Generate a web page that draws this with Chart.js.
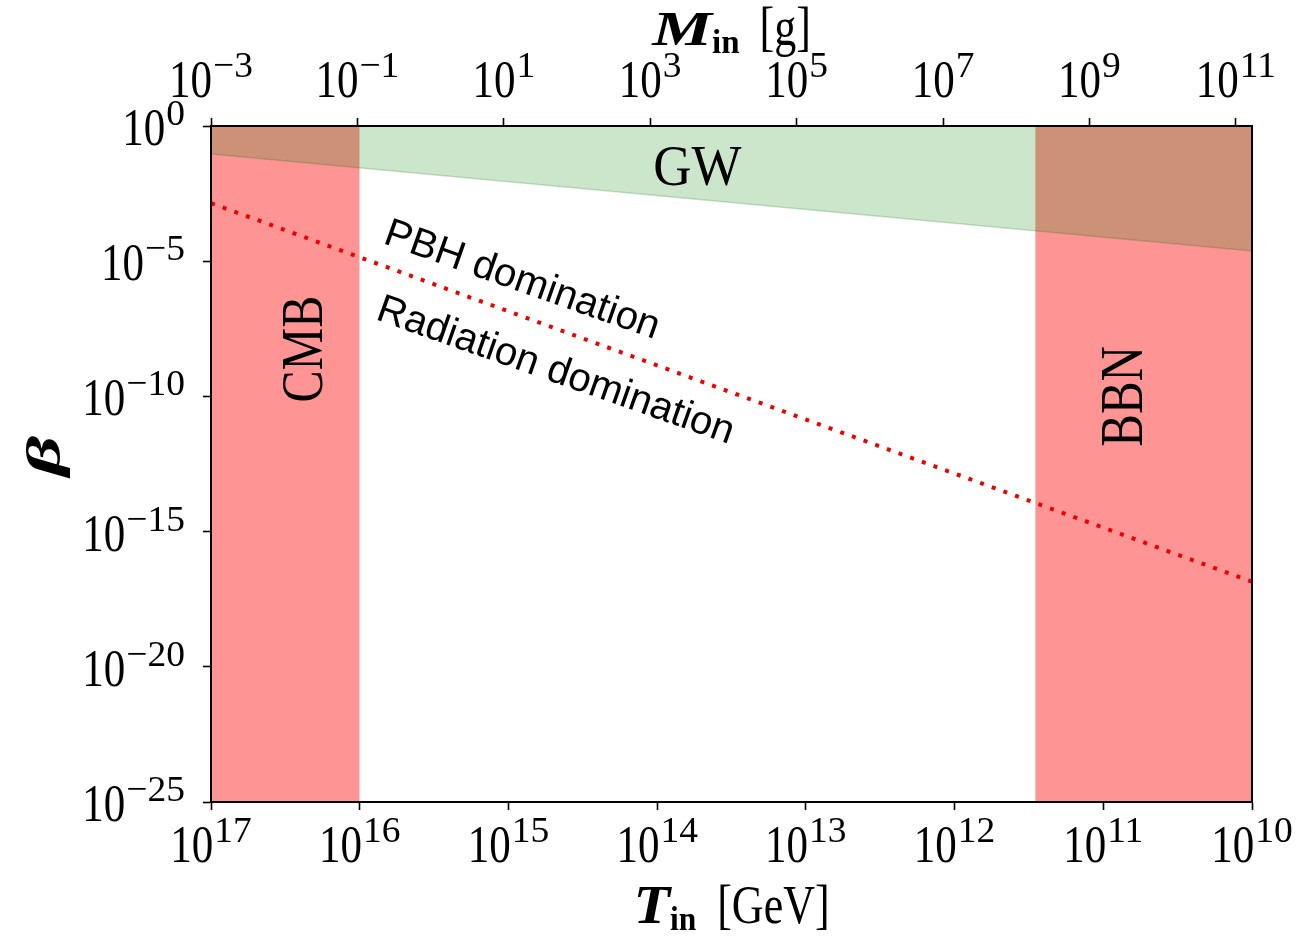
<!DOCTYPE html>
<html>
<head>
<meta charset="utf-8">
<script src="https://cdn.jsdelivr.net/npm/chart.js@4.4.0/dist/chart.umd.min.js"></script>
<style>
  html, body { margin: 0; padding: 0; background: #fff; }
  #wrap { width: 1302px; height: 937px; }
</style>
</head>
<body>
<div id="wrap"><canvas id="pbh" width="1302" height="937"></canvas></div>
<script>
// bottom axis: T_in [GeV], decreasing to the right
const tTicks = [1e17, 1e16, 1e15, 1e14, 1e13, 1e12, 1e11, 1e10];
// top axis: M_in [g]
const mTicks = [1e-3, 1e-1, 1e1, 1e3, 1e5, 1e7, 1e9, 1e11];
const mRange = [1e-3, 1.66e11];
// beta axis
const betaTicks = [1, 1e-5, 1e-10, 1e-15, 1e-20, 1e-25];

// excluded bands in T
const cmbT = [1e17, 1e16];
const bbnT = [2.87e11, 1e10];
const bandTop = [1, 1];

// GW bound
const gwT = [1e17, 1e10];
const gwBeta = [9.2e-2, 2.4e-5];

// PBH domination / radiation domination boundary
const domT = [1e17, 1e10];
const domBeta = [1.4e-3, 1.4e-17];

const SERIF = '"Liberation Serif", "Times New Roman", serif';
const SANS = '"Liberation Sans", Arial, sans-serif';

const pts = (xs, ys) => xs.map((v, i) => ({x: v, y: ys[i]}));

function putText(ctx, str, x, y, o) {
  ctx.save();
  ctx.translate(x, y);
  if (o.rot) ctx.rotate(o.rot);
  ctx.scale(o.sx || 1, o.sy || 1);
  ctx.font = o.font;
  ctx.textAlign = o.align || 'left';
  ctx.textBaseline = 'alphabetic';
  ctx.fillStyle = '#000';
  ctx.fillText(str, 0, 0);
  ctx.restore();
}

function textW(ctx, str, font) {
  ctx.save();
  ctx.font = font;
  const w = ctx.measureText(str).width;
  ctx.restore();
  return w;
}

// "10" with raised exponent
function powLabel(ctx, v, x, base, align) {
  const p = Math.round(Math.log10(v));
  const e = (p < 0 ? '\u2212' : '') + Math.abs(p);
  const bf = '43px ' + SERIF, ef = '30px ' + SERIF;
  const wb = textW(ctx, '10', bf);
  const we = textW(ctx, e, ef) * 1.25;
  const total = wb + we + 1;
  const x0 = align === 'right' ? x - total : x - total / 2;
  putText(ctx, '10', x0, base, {font: bf, sy: 1.24});
  putText(ctx, e, x0 + wb + 1, base - 20, {font: ef, sx: 1.25, sy: 1.22});
}

function run(ctx, segs, cx, baseY) {
  const widths = segs.map(s => textW(ctx, s.str, s.font) * (s.sx || 1));
  const total = widths.reduce((a, w, i) => a + w + (segs[i].gap || 0), 0);
  let xx = cx - total / 2;
  segs.forEach((s, i) => {
    xx += s.gap || 0;
    putText(ctx, s.str, xx, baseY + (s.dy || 0), s);
    xx += widths[i];
  });
}

const notes = [
  {str: 'GW', T: 10 ** 13.73, b: 10 ** -2.18, font: '53px ' + SERIF, sy: 1.07, align: 'center'},
  {str: 'CMB', T: 10 ** 16.254, b: 10 ** -8.25, font: '48px ' + SERIF, rot: -Math.PI / 2, sy: 1.22, align: 'center'},
  {str: 'BBN', T: 10 ** 10.739, b: 1e-10, font: '49px ' + SERIF, rot: -Math.PI / 2, sy: 1.23, align: 'center'},
  {str: 'PBH domination', T: 10 ** 15.85, b: 10 ** -4.33, font: '40px ' + SANS, alongLine: true},
  {str: 'Radiation domination', T: 10 ** 15.9, b: 10 ** -7.14, font: '40px ' + SANS, alongLine: true}
];

const paperText = {
  id: 'paperText',
  afterDraw(chart) {
    const ctx = chart.ctx;
    const {x, x2, y} = chart.scales;
    const area = chart.chartArea;

    x.ticks.forEach(t => powLabel(ctx, t.value, x.getPixelForValue(t.value), area.bottom + 60, 'center'));
    x2.ticks.forEach(t => powLabel(ctx, t.value, x2.getPixelForValue(t.value), area.top - 29, 'center'));
    y.ticks.forEach(t => powLabel(ctx, t.value, area.left - 26, y.getPixelForValue(t.value) + 19, 'right'));

    const cx = (area.left + area.right) / 2;
    run(ctx, [
      {str: 'T', font: 'bold italic 46px ' + SERIF, sx: 1.3, sy: 1.2},
      {str: 'in', font: 'bold 30px ' + SERIF, sx: 1.05, sy: 1.15, dy: 7},
      {str: '[GeV]', font: '44px ' + SERIF, sy: 1.27, gap: 21}
    ], cx, area.bottom + 121);
    run(ctx, [
      {str: 'M', font: 'bold italic 48px ' + SERIF, sx: 1.4, sy: 1.0},
      {str: 'in', font: 'bold 30px ' + SERIF, sx: 1.1, sy: 1.1, dy: 8},
      {str: '[g]', font: '44px ' + SERIF, sy: 1.25, gap: 20}
    ], cx, area.top - 81);
    putText(ctx, '\u03b2', 60, 456, {font: 'bold italic 58px ' + SERIF, rot: -Math.PI / 2, align: 'center', sx: 1.35, sy: 0.85});

    // slope of the domination boundary on screen
    const slope = (y.getPixelForValue(domBeta[1]) - y.getPixelForValue(domBeta[0])) /
                  (x.getPixelForValue(domT[1]) - x.getPixelForValue(domT[0]));
    notes.forEach(n => {
      const px = x.getPixelForValue(n.T), py = y.getPixelForValue(n.b);
      if (n.alongLine) {
        putText(ctx, n.str, px, py, {font: n.font, rot: Math.atan(slope * 0.97)});
      } else {
        putText(ctx, n.str, px, py, n);
      }
    });
  }
};

const axisLook = (extra) => Object.assign({
  border: {display: true, color: '#000', width: 2, z: 1},
  grid: {display: true, drawOnChartArea: false, drawTicks: true, tickLength: 8, tickWidth: 1.6, tickColor: '#000'},
  ticks: {display: false}
}, extra);

const RED = 'rgba(255, 0, 0, 0.42)';
const GREEN = 'rgba(0, 128, 0, 0.2)';

new Chart(document.getElementById('pbh'), {
  type: 'line',
  data: {
    datasets: [
      {label: 'CMB', data: pts(cmbT, bandTop), fill: 'start', backgroundColor: RED, borderWidth: 0, pointRadius: 0, order: 3},
      {label: 'BBN', data: pts(bbnT, bandTop), fill: 'start', backgroundColor: RED, borderWidth: 0, pointRadius: 0, order: 3},
      {label: 'GW', data: pts(gwT, gwBeta), fill: 'end', backgroundColor: GREEN, borderColor: 'rgba(0, 100, 0, 0.2)', borderWidth: 1.5, pointRadius: 0, order: 2},
      {label: 'domination', data: pts(domT, domBeta), fill: false, borderColor: '#ee0000', borderWidth: 4, borderDash: [4, 8.4], pointRadius: 0, order: 1}
    ]
  },
  options: {
    responsive: false,
    animation: false,
    devicePixelRatio: 1,
    layout: {padding: 0},
    plugins: {legend: {display: false}, tooltip: {enabled: false}},
    scales: {
      x: axisLook({
        type: 'logarithmic', position: 'bottom', reverse: true, min: 1e10, max: 1e17,
        afterBuildTicks: s => { s.ticks = tTicks.map(v => ({value: v})); },
        afterFit: s => { s.height = 135; }
      }),
      x2: axisLook({
        type: 'logarithmic', position: 'top', min: mRange[0], max: mRange[1],
        afterBuildTicks: s => { s.ticks = mTicks.map(v => ({value: v})); },
        afterFit: s => { s.height = 126; }
      }),
      y: axisLook({
        type: 'logarithmic', position: 'left', min: 1e-25, max: 1,
        afterBuildTicks: s => { s.ticks = betaTicks.map(v => ({value: v})); },
        afterFit: s => { s.width = 211; }
      }),
      y2: {
        type: 'logarithmic', position: 'right', min: 1e-25, max: 1,
        border: {display: true, color: '#000', width: 2, z: 1},
        grid: {display: false},
        ticks: {display: false},
        afterFit: s => { s.width = 50; }
      }
    }
  },
  plugins: [paperText]
});
</script>
</body>
</html>
